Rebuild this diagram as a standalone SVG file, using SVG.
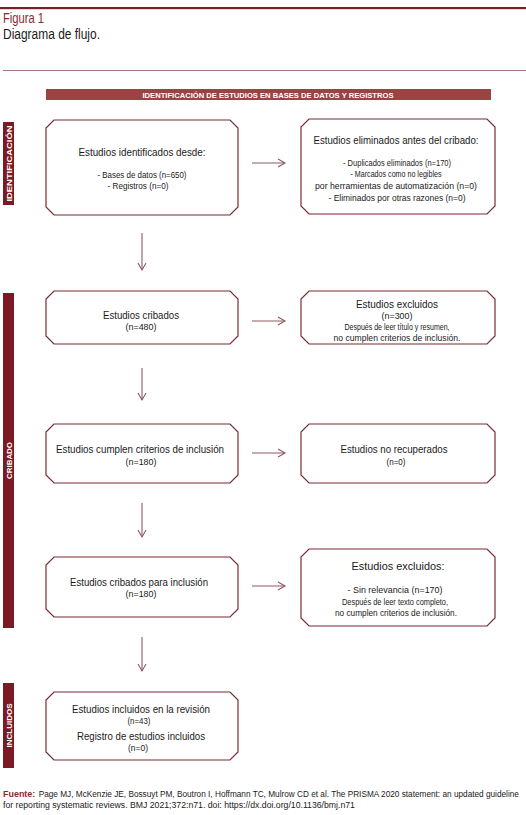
<svg xmlns="http://www.w3.org/2000/svg" width="526" height="815" viewBox="0 0 526 815">
<style>
text{font-family:"Liberation Sans",Arial,sans-serif;fill:#1a1a1a}
.t{font-size:11px;text-anchor:middle}
.s{font-size:9px;text-anchor:middle}
.f{font-size:9.5px}
.box{fill:#fff;stroke:#7a2a33;stroke-width:1.2}
.bar{fill:#7b1a22}
.side{font-size:7.5px;font-weight:bold;fill:#fff;text-anchor:middle}
.arr{stroke:#8e5863;stroke-width:1.1;fill:none}
</style>
<defs>
<marker id="ah" markerWidth="10" markerHeight="10" refX="8" refY="5" orient="auto" markerUnits="userSpaceOnUse">
<polyline points="1,1 8,5 1,9" fill="none" stroke="#8e5863" stroke-width="1.1"/>
</marker>
</defs>
<rect width="526" height="815" fill="#fff"/>
<rect x="0" y="7" width="526" height="2.2" fill="#7a1f28"/>
<text x="3" y="23" style="font-size:14px;fill:#8a2a30" textLength="41" lengthAdjust="spacingAndGlyphs">Figura 1</text>
<text x="3" y="39" style="font-size:14px" textLength="97" lengthAdjust="spacingAndGlyphs">Diagrama de flujo.</text>
<rect x="3" y="70" width="523" height="0.9" fill="#9a6a6a"/>
<g id="header">
<rect x="46" y="89" width="445" height="11" fill="#9b4242"/>
<text x="268" y="97.5" style="font-size:7.5px;font-weight:bold;fill:#fff;text-anchor:middle" textLength="251" lengthAdjust="spacingAndGlyphs">IDENTIFICACIÓN DE ESTUDIOS EN BASES DE DATOS Y REGISTROS</text>
</g>
<g id="lbl-ident">
<rect class="bar" x="3" y="122" width="11" height="83"/>
<text class="side" transform="translate(11.5,163.5) rotate(-90)" textLength="76" lengthAdjust="spacingAndGlyphs">IDENTIFICACIÓN</text>
</g>
<g id="lbl-cribado">
<rect class="bar" x="3" y="293" width="11" height="335"/>
<text class="side" transform="translate(11.5,460.5) rotate(-90)" textLength="37" lengthAdjust="spacingAndGlyphs">CRIBADO</text>
</g>
<g id="lbl-incl">
<rect class="bar" x="3" y="683" width="11" height="85"/>
<text class="side" transform="translate(11.5,725.5) rotate(-90)" textLength="44" lengthAdjust="spacingAndGlyphs">INCLUIDOS</text>
</g>
<g id="n1">
<path class="box" d="M54,120 H230 L238,128 V207 L230,215 H54 L46,207 V128 Z"/>
<text class="t" x="142" y="156" textLength="127" lengthAdjust="spacingAndGlyphs">Estudios identificados desde:</text>
<text class="s" x="142" y="178" textLength="89" lengthAdjust="spacingAndGlyphs">- Bases de datos (n=650)</text>
<text class="s" x="138" y="189" textLength="61" lengthAdjust="spacingAndGlyphs">- Registros  (n=0)</text>
</g>
<g id="n2">
<path class="box" d="M309,119 H487 L495,127 V206 L487,214 H309 L301,206 V127 Z"/>
<text class="t" x="396" y="144" textLength="165" lengthAdjust="spacingAndGlyphs">Estudios eliminados antes del cribado:</text>
<text class="s" x="397" y="166" textLength="108" lengthAdjust="spacingAndGlyphs">- Duplicados eliminados (n=170)</text>
<text class="s" x="396" y="177" textLength="91" lengthAdjust="spacingAndGlyphs">- Marcados como no legibles</text>
<text class="s" x="396" y="189" textLength="162" lengthAdjust="spacingAndGlyphs">por herramientas de automatización (n=0)</text>
<text class="s" x="397" y="201" textLength="137" lengthAdjust="spacingAndGlyphs">- Eliminados por otras razones (n=0)</text>
</g>
<g id="n3">
<path class="box" d="M54,291 H230 L238,299 V336 L230,344 H54 L46,336 V299 Z"/>
<text class="t" x="141" y="319" textLength="76" lengthAdjust="spacingAndGlyphs">Estudios cribados</text>
<text class="s" x="141" y="330" textLength="31" lengthAdjust="spacingAndGlyphs">(n=480)</text>
</g>
<g id="n4">
<path class="box" d="M309,291 H487 L495,299 V336 L487,344 H309 L301,336 V299 Z"/>
<text class="t" x="397" y="308" textLength="82" lengthAdjust="spacingAndGlyphs">Estudios excluidos</text>
<text class="s" x="397" y="319" textLength="31" lengthAdjust="spacingAndGlyphs">(n=300)</text>
<text class="s" x="397" y="330" textLength="105" lengthAdjust="spacingAndGlyphs">Después de leer título y resumen,</text>
<text class="s" x="397" y="341" textLength="127" lengthAdjust="spacingAndGlyphs">no cumplen criterios de inclusión.</text>
</g>
<g id="n5">
<path class="box" d="M54,424 H230 L238,432 V475 L230,483 H54 L46,475 V432 Z"/>
<text class="t" x="140" y="453" textLength="168" lengthAdjust="spacingAndGlyphs">Estudios cumplen criterios de inclusión</text>
<text class="s" x="141" y="465" textLength="31" lengthAdjust="spacingAndGlyphs">(n=180)</text>
</g>
<g id="n6">
<path class="box" d="M309,424 H487 L495,432 V475 L487,483 H309 L301,475 V432 Z"/>
<text class="t" x="394" y="453" textLength="107" lengthAdjust="spacingAndGlyphs">Estudios no recuperados</text>
<text class="s" x="396" y="465" textLength="19" lengthAdjust="spacingAndGlyphs">(n=0)</text>
</g>
<g id="n7">
<path class="box" d="M54,557 H230 L238,565 V609 L230,617 H54 L46,609 V565 Z"/>
<text class="t" x="139" y="586" textLength="138" lengthAdjust="spacingAndGlyphs">Estudios cribados para inclusión</text>
<text class="s" x="141" y="597" textLength="31" lengthAdjust="spacingAndGlyphs">(n=180)</text>
</g>
<g id="n8">
<path class="box" d="M309,549 H487 L495,557 V618 L487,626 H309 L301,618 V557 Z"/>
<text class="t" x="398" y="570" textLength="93" lengthAdjust="spacingAndGlyphs">Estudios excluidos:</text>
<text class="s" x="395" y="593" textLength="95" lengthAdjust="spacingAndGlyphs">- Sin relevancia (n=170)</text>
<text class="s" x="395" y="605" textLength="106" lengthAdjust="spacingAndGlyphs">Después de leer texto completo,</text>
<text class="s" x="396" y="616" textLength="122" lengthAdjust="spacingAndGlyphs">no cumplen criterios de inclusión.</text>
</g>
<g id="n9">
<path class="box" d="M54,692 H230 L238,700 V752 L230,760 H54 L46,752 V700 Z"/>
<text class="t" x="141" y="713" textLength="138" lengthAdjust="spacingAndGlyphs">Estudios incluidos en la revisión</text>
<text class="s" x="139" y="724" textLength="23" lengthAdjust="spacingAndGlyphs">(n=43)</text>
<text class="t" x="141" y="740" textLength="128" lengthAdjust="spacingAndGlyphs">Registro de estudios incluidos</text>
<text class="s" x="138" y="751" textLength="20" lengthAdjust="spacingAndGlyphs">(n=0)</text>
</g>
<g id="connectors">
<line class="arr" x1="252" y1="163" x2="285" y2="163" marker-end="url(#ah)"/>
<line class="arr" x1="252" y1="321" x2="285" y2="321" marker-end="url(#ah)"/>
<line class="arr" x1="252" y1="453" x2="285" y2="453" marker-end="url(#ah)"/>
<line class="arr" x1="252" y1="586" x2="285" y2="586" marker-end="url(#ah)"/>
<line class="arr" x1="142" y1="233" x2="142" y2="270" marker-end="url(#ah)"/>
<line class="arr" x1="142" y1="368" x2="142" y2="400" marker-end="url(#ah)"/>
<line class="arr" x1="142" y1="503" x2="142" y2="537" marker-end="url(#ah)"/>
<line class="arr" x1="142" y1="637" x2="142" y2="671" marker-end="url(#ah)"/>
</g>
<g id="footer" transform="translate(3,0) scale(0.85,1)">
<text class="f" x="0" y="797" style="font-weight:bold;fill:#8a2a30" textLength="38" lengthAdjust="spacingAndGlyphs">Fuente:</text>
<text class="f" x="42" y="797" textLength="565" lengthAdjust="spacingAndGlyphs">Page MJ, McKenzie JE, Bossuyt PM, Boutron I, Hoffmann TC, Mulrow CD et al. The PRISMA 2020 statement: an updated guideline</text>
<text class="f" x="0" y="808" textLength="414" lengthAdjust="spacingAndGlyphs">for reporting systematic reviews. BMJ 2021;372:n71. doi: https://dx.doi.org/10.1136/bmj.n71</text>
</g>
</svg>
